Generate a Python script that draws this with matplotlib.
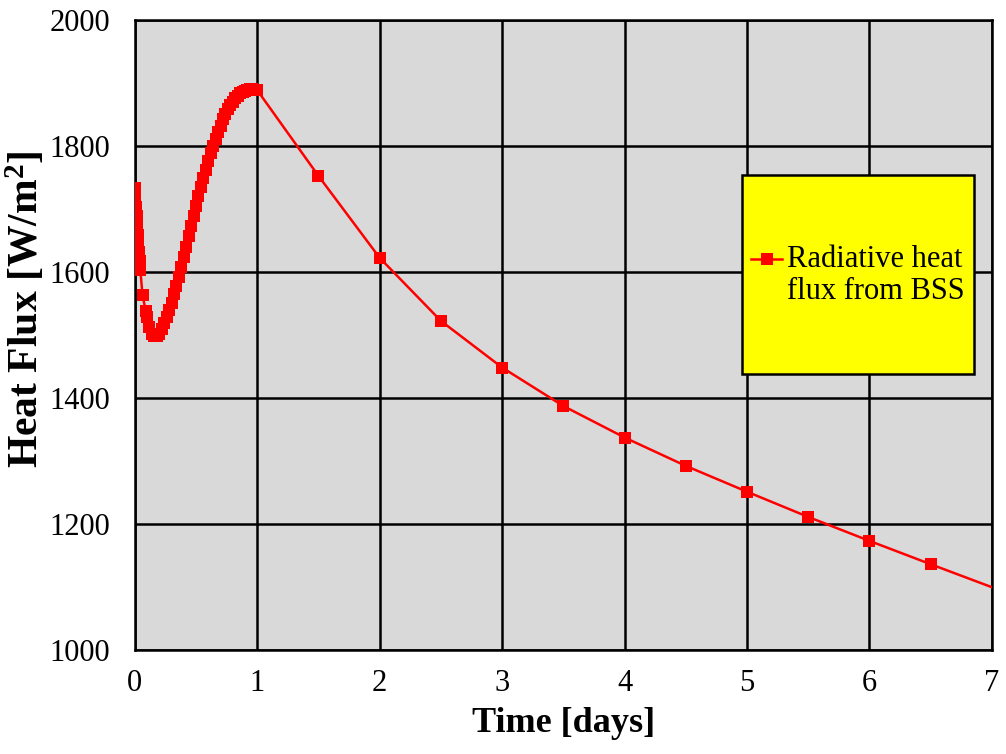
import numpy as np
import matplotlib.pyplot as plt
from matplotlib.patches import Rectangle
from matplotlib.legend_handler import HandlerLine2D

# tiempo (dias) y flujo de calor (W/m2)
t_inicio = [0.0, 0.005, 0.01, 0.015, 0.02, 0.025, 0.03, 0.035, 0.04, 0.045,
            0.063, 0.09]
q_inicio = [1733, 1718, 1703, 1688, 1673, 1659, 1645, 1631, 1617, 1603,
            1563, 1537]

t_dia1 = [0.10, 0.12, 0.14, 0.16, 0.18, 0.20, 0.22, 0.24, 0.26, 0.28,
          0.30, 0.32, 0.34, 0.36, 0.38, 0.40, 0.42, 0.44, 0.46, 0.48,
          0.50, 0.52, 0.54, 0.56, 0.58, 0.60, 0.62, 0.64, 0.66, 0.68,
          0.70, 0.72, 0.74, 0.76, 0.78, 0.80, 0.82, 0.84, 0.86, 0.88,
          0.90, 0.92, 0.94, 0.96, 0.98, 1.00]
q_dia1 = [1528, 1512, 1502, 1498, 1498, 1502, 1509, 1518, 1528, 1539,
          1551, 1564, 1578, 1592, 1608, 1624, 1640, 1657, 1673, 1689,
          1705, 1720, 1734, 1748, 1762, 1775, 1788, 1800, 1811, 1822,
          1832, 1842, 1851, 1858, 1865, 1870, 1875, 1879, 1883, 1885,
          1887, 1889, 1890, 1890, 1889, 1888]

t_resto = [1.5, 2.0, 2.5, 3.0, 3.5, 4.0, 4.5, 5.0, 5.5, 6.0, 6.5, 7.5]
q_resto = [1752, 1622, 1522, 1448, 1387, 1337, 1292, 1251, 1211, 1173, 1136, 1063]

tiempo = t_inicio + t_dia1 + t_resto
flujo = q_inicio + q_dia1 + q_resto

etiqueta = 'Radiative heat\nflux from BSS'

plt.rcParams['font.family'] = ['Liberation Serif', 'DejaVu Serif']
plt.rcParams['mathtext.fontset'] = 'custom'
plt.rcParams['mathtext.rm'] = 'Liberation Serif'
plt.rcParams['mathtext.bf'] = 'Liberation Serif:bold'


class HandlerArriba(HandlerLine2D):
    # sube el simbolo a la altura de la primera linea del texto
    def create_artists(self, legend, orig_handle, xdescent, ydescent,
                       width, height, fontsize, trans):
        arts = super().create_artists(legend, orig_handle, xdescent, ydescent,
                                      width, height, fontsize, trans)
        for a in arts:
            a.set_ydata(np.asarray(a.get_ydata()) + 0.55 * fontsize)
        return arts


fig = plt.figure(figsize=(10.06, 7.54), dpi=100)
ax = fig.add_axes([0.134, 0.138, 0.852, 0.836])
ax.set_facecolor('#d9d9d9')

ax.plot(tiempo, flujo, color='#ff0000', lw=1.8, marker='s', markersize=9.3,
        markeredgewidth=0, label=etiqueta, zorder=3)

ax.set_xlim(0, 7)
ax.set_ylim(1000, 2000)
ax.set_xticks(range(0, 8))
ax.set_yticks(range(1000, 2001, 200))
ax.grid(True, color='black', lw=1.8, zorder=1)
ax.set_axisbelow(True)
for s in ax.spines.values():
    s.set_color('black')
    s.set_linewidth(1.8)
ax.tick_params(axis='both', length=0, labelsize=22)
ax.tick_params(axis='x', pad=14)
ax.tick_params(axis='y', pad=18)

ax.set_xlabel('Time [days]', fontsize=26, fontweight='bold', labelpad=6)
ax.set_ylabel(r'Heat Flux [W/m$\mathbf{^2}$]', fontsize=30, fontweight='bold')
ax.yaxis.set_label_coords(-0.103, 0.54)

# caja amarilla de la leyenda
ax.add_patch(Rectangle((0.708, 0.438), 0.271, 0.315, transform=ax.transAxes,
                       facecolor='#ffff00', edgecolor='black', lw=1.8, zorder=5))
leg = ax.legend(loc='center', bbox_to_anchor=(0.8435, 0.594), frameon=False,
                fontsize=22, handlelength=1.0, handletextpad=0.15,
                handler_map={plt.Line2D: HandlerArriba()}, markerscale=0.9)
for txt in leg.get_texts():
    txt.set_linespacing(1.12)
leg.set_zorder(6)

fig.savefig('out.png', dpi=100)
